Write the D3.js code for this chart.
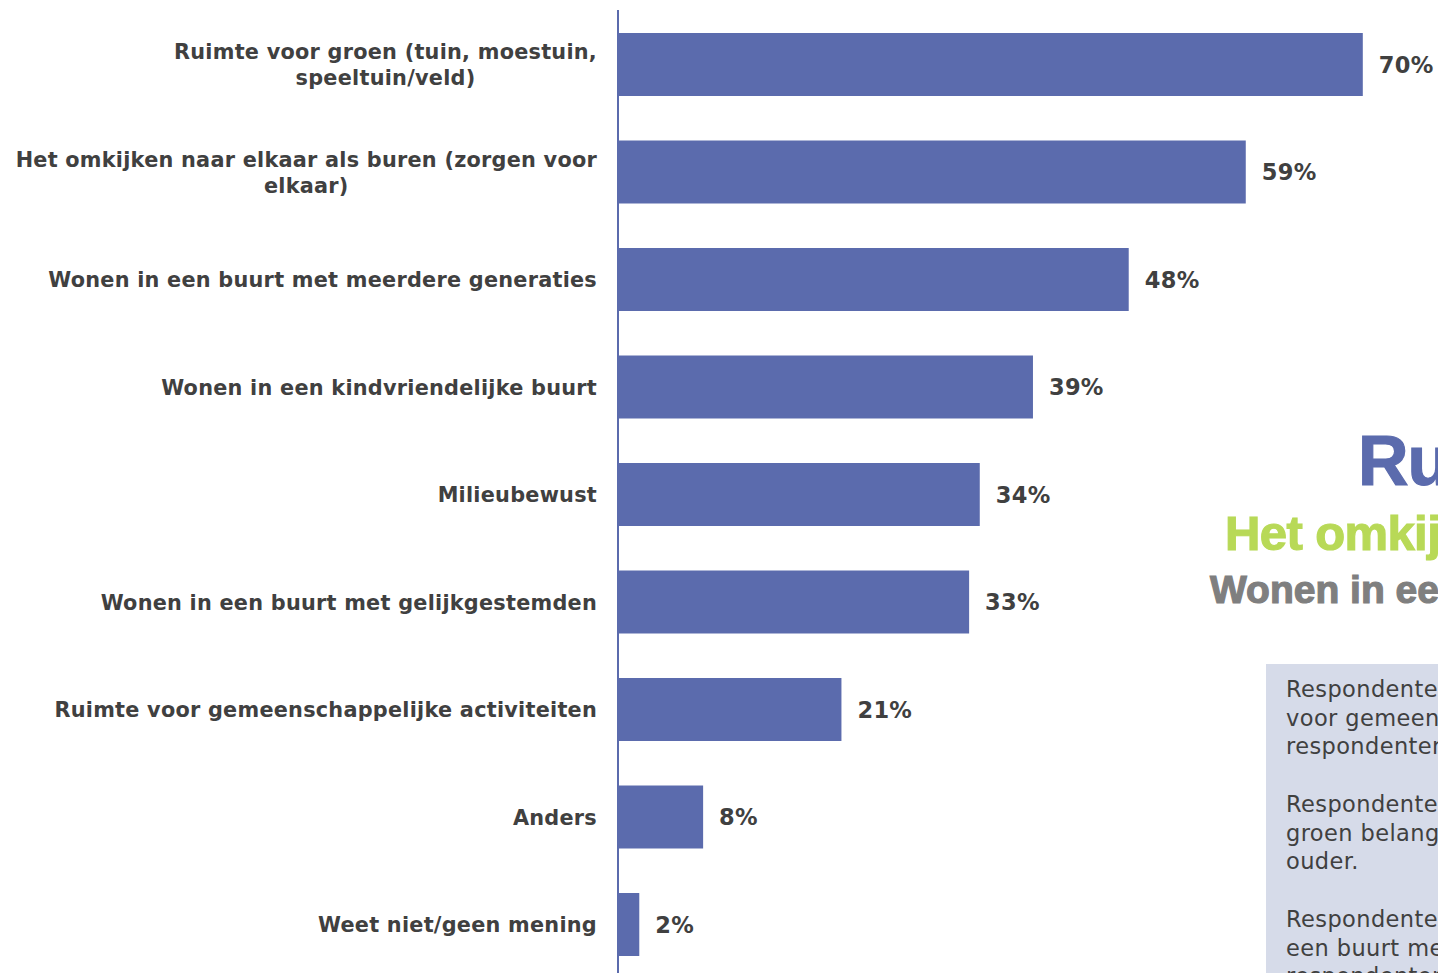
<!DOCTYPE html>
<html>
<head>
<meta charset="utf-8">
<script src="https://cdn.jsdelivr.net/npm/d3@7"></script>
<style>
    body { margin: 0; background: #fff; overflow: hidden; }
    svg { display: block; }
    .cat { font-family: "DejaVu Sans", Verdana, sans-serif; font-weight: bold; font-size: 20.8px; letter-spacing: 0.25px; fill: #404040; }
    .val { font-family: "DejaVu Sans", Verdana, sans-serif; font-weight: bold; font-size: 22.5px; letter-spacing: 0.3px; fill: #404040; }
    .cloud { font-family: "Liberation Sans", Arial, sans-serif; font-weight: bold; }
    .note { font-family: "DejaVu Sans", Verdana, sans-serif; font-size: 22.5px; letter-spacing: 0.4px; fill: #404040; }
</style>
</head>
<body>
<svg id="chart" width="1438" height="973"></svg>
<script>
// categories (line breaks as in the reference)
const categories = [
    ["Ruimte voor groen (tuin, moestuin,", "speeltuin/veld)"],
    ["Het omkijken naar elkaar als buren (zorgen voor", "elkaar)"],
    ["Wonen in een buurt met meerdere generaties"],
    ["Wonen in een kindvriendelijke buurt"],
    ["Milieubewust"],
    ["Wonen in een buurt met gelijkgestemden"],
    ["Ruimte voor gemeenschappelijke activiteiten"],
    ["Anders"],
    ["Weet niet/geen mening"]
];
const values = [70, 59, 48, 39, 34, 33, 21, 8, 2];

// word cloud fragments on the right
const cloudWords = [
    {text: "Ruimte voor groen", color: "#5b6bad", size: 70, spacing: -1},
    {text: "Het omkijken naar elkaar", color: "#b8d957", size: 49, spacing: -0.6},
    {text: "Wonen in een buurt met meerdere generaties", color: "#7f7f7f", size: 39, spacing: 0}
];

// note box paragraphs
const notes = [
    ["Respondenten van 65 jaar en ouder vinden ruimte",
     "voor gemeenschappelijke activiteiten vaker belangrijk dan",
     "respondenten jonger dan 65 jaar."],
    ["Respondenten met kinderen vinden ruimte voor",
     "groen belangrijker dan respondenten van 65 jaar en",
     "ouder."],
    ["Respondenten met kinderen vinden wonen in",
     "een buurt met gelijkgestemden minder belangrijk dan",
     "respondenten zonder kinderen."]
];

const svg = d3.select("#chart");
const barColor = "#5b6bad";
const axisX = 618;
const labelRight = 597;

const x = d3.scaleLinear()
    .domain([0, 100])
    .range([axisX, axisX + 1064]);

const y = d3.scaleBand()
    .domain(d3.range(categories.length))
    .range([10.75, 978.25])
    .paddingInner(0.414)
    .paddingOuter(0.207);

// bars
svg.append("g")
    .selectAll("rect")
    .data(values)
    .enter()
    .append("rect")
    .attr("x", x(0))
    .attr("y", (d, i) => y(i))
    .attr("width", d => x(d) - x(0))
    .attr("height", y.bandwidth())
    .attr("fill", barColor);

// vertical axis line
svg.append("line")
    .attr("x1", axisX).attr("x2", axisX)
    .attr("y1", 10).attr("y2", 973)
    .attr("stroke", barColor)
    .attr("stroke-width", 2);

// value labels
svg.append("g")
    .selectAll("text")
    .data(values)
    .enter()
    .append("text")
    .attr("class", "val")
    .attr("x", d => x(d) + 16)
    .attr("y", (d, i) => y(i) + y.bandwidth() / 2 + 8)
    .text(d => `${d}%`);

// category labels: block right aligned, lines centred within it
const lineHeight = 26;
const cats = svg.append("g")
    .selectAll("text")
    .data(categories)
    .enter()
    .append("text")
    .attr("class", "cat")
    .attr("text-anchor", "middle");

cats.each(function(d, i) {
    const top = y(i) + y.bandwidth() / 2 - (d.length - 1) * lineHeight / 2 + 7.5;
    const spans = d3.select(this).selectAll("tspan")
        .data(d)
        .enter()
        .append("tspan")
        .attr("y", (line, j) => top + j * lineHeight)
        .text(line => line);
    const widest = d3.max(spans.nodes(), n => n.getComputedTextLength());
    spans.attr("x", labelRight - widest / 2);
});

// word cloud (cut off at the right edge)
const cloudPos = [{x: 1358, y: 485}, {x: 1225, y: 550}, {x: 1210, y: 603}];
svg.append("g")
    .selectAll("text")
    .data(cloudWords)
    .enter()
    .append("text")
    .attr("class", "cloud")
    .attr("x", (d, i) => cloudPos[i].x)
    .attr("y", (d, i) => cloudPos[i].y)
    .attr("fill", d => d.color)
    .attr("stroke", d => d.color)
    .attr("stroke-width", 1.2)
    .style("font-size", d => d.size + "px")
    .style("letter-spacing", d => d.spacing + "px")
    .text(d => d.text);

// note box
svg.append("rect")
    .attr("x", 1266).attr("y", 664)
    .attr("width", 400).attr("height", 320)
    .attr("fill", "#d6dbe9");

const noteLine = 28.5;
const noteGroup = svg.append("g");
notes.forEach((para, p) => {
    const t = noteGroup.append("text")
        .attr("class", "note");
    para.forEach((line, j) => {
        t.append("tspan")
            .attr("x", 1286)
            .attr("y", 697 + p * 115 + j * noteLine)
            .text(line);
    });
});
</script>
</body>
</html>
